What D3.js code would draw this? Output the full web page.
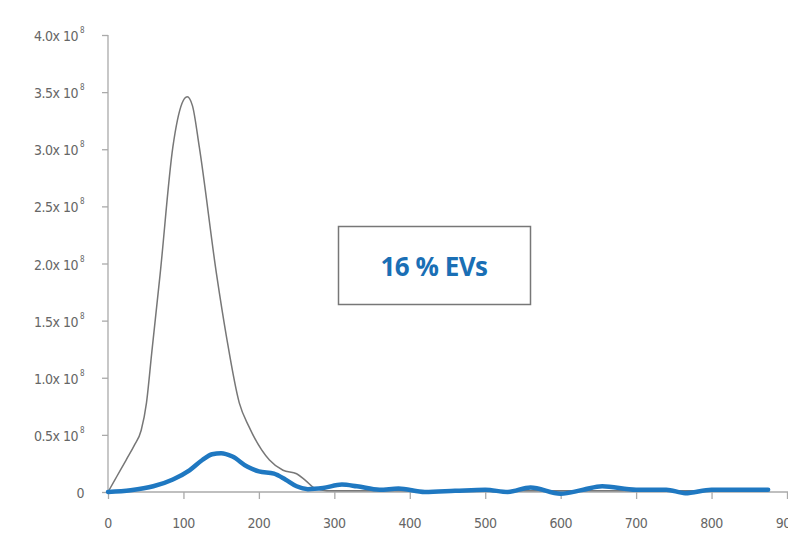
<!DOCTYPE html>
<html><head><meta charset="utf-8">
<script src="https://cdn.jsdelivr.net/npm/d3@7"></script>
<style>body{margin:0;background:#fff}svg{display:block}</style>
</head><body><svg id="c" width="788" height="536"></svg>
<script>
const xTicks = [0,100,200,300,400,500,600,700,800,900];
const yTicks = [0,0.5,1.0,1.5,2.0,2.5,3.0,3.5,4.0];
const yTickLabels = ["0","0.5x 10","1.0x 10","1.5x 10","2.0x 10","2.5x 10","3.0x 10","3.5x 10","4.0x 10"];
const exponent = "8";
const totalX = [0,12,24,35,44,51,58,69,86,98,105,112,121,144,157,174,187,214,232,250,262,275,290,350,400,500,600,700,800,875];
const totalY = [0,0.14,0.28,0.41,0.54,0.78,1.22,1.90,3.02,3.40,3.46,3.38,3.02,1.90,1.36,0.78,0.57,0.28,0.19,0.16,0.10,0.03,0.012,0.01,0.01,0.01,0.01,0.01,0.01,0.01];
const evX = [0,30,60,86,108,125,138,150,165,185,200,220,235,250,265,285,310,330,360,385,420,460,500,530,560,600,630,655,700,740,765,800,840,875];
const evY = [0,0.015,0.05,0.11,0.19,0.28,0.33,0.34,0.31,0.22,0.18,0.16,0.11,0.05,0.025,0.035,0.065,0.05,0.02,0.03,0.0,0.01,0.02,0.0,0.04,-0.015,0.02,0.05,0.02,0.02,-0.01,0.02,0.02,0.02];
const label = "16 % EVs";

const svg = d3.select("#c");
const x = d3.scaleLinear().domain([0,900]).range([108,787]);
const y = d3.scaleLinear().domain([0,4]).range([492,35]);
const font = "'DejaVu Sans Condensed','Liberation Sans Narrow',sans-serif";
const axCol = "#aaa";

// y axis
const ya = svg.append("g").attr("transform","translate(108,0)")
  .call(d3.axisLeft(y).tickValues(yTicks).tickSize(6).tickFormat(""));
ya.selectAll("path,line").attr("stroke",axCol).attr("stroke-width",1.3);
ya.select(".domain").attr("d","M0,"+y(4)+"V"+y(0));
yTicks.forEach((v,i)=>{
  svg.append("text").attr("x", i===0?84:78).attr("y", y(v)+6)
    .attr("text-anchor","end").attr("font-family",font).attr("font-size",14)
    .attr("fill","#666").attr("letter-spacing",-0.5).text(yTickLabels[i]);
  if(i>0){
    svg.append("text").attr("x",80).attr("y",y(v)-2).attr("font-family",font)
      .attr("font-size",8).attr("fill","#666").text(exponent);
  }
});

// x axis
const xa = svg.append("g").attr("transform","translate(0,492)")
  .call(d3.axisBottom(x).tickValues(xTicks).tickSize(7).tickFormat(""));
xa.selectAll("path,line").attr("stroke",axCol).attr("stroke-width",1.3);
xa.select(".domain").attr("d","M"+x(0)+",0H788");
xTicks.forEach(v=>{
  svg.append("text").attr("x",x(v)).attr("y",528).attr("text-anchor","middle")
    .attr("font-family",font).attr("font-size",14).attr("fill","#666")
    .attr("letter-spacing",-0.5).text(v);
});

const line = (xs,ys)=>d3.line().x((d,i)=>x(xs[i])).y((d,i)=>y(ys[i])).curve(d3.curveMonotoneX)(xs);

svg.append("path").attr("d",line(totalX,totalY)).attr("fill","none")
  .attr("stroke","#777").attr("stroke-width",1.5);
svg.append("path").attr("d",line(evX,evY)).attr("fill","none")
  .attr("stroke","#1f78c1").attr("stroke-width",4.5).attr("stroke-linecap","round");

// annotation box
svg.append("rect").attr("x",338.5).attr("y",226.5).attr("width",192).attr("height",78)
  .attr("fill","#fff").attr("stroke","#777").attr("stroke-width",1.5);
svg.append("text").attr("x",434).attr("y",276).attr("text-anchor","middle")
  .attr("font-family","'Open Sans','DejaVu Sans',sans-serif").attr("font-weight","bold")
  .attr("font-size",26).attr("fill","#1a6fb5").attr("letter-spacing",-0.5).text(label);
</script></body></html>
